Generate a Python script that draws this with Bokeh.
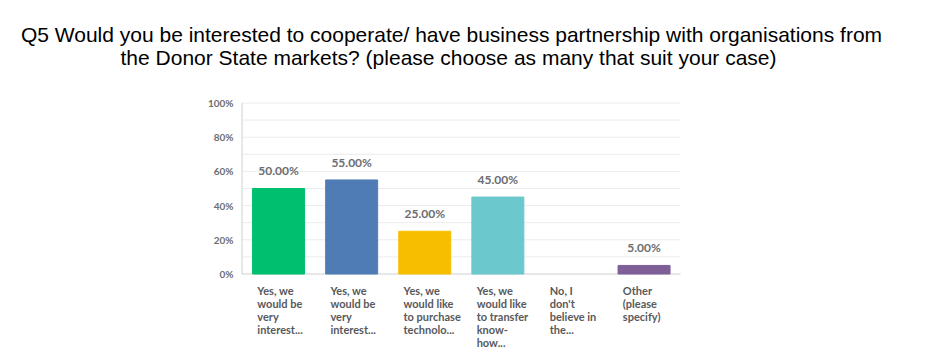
from bokeh.plotting import figure
from bokeh.models import Range1d, ColumnDataSource
from bokeh.core.properties import value
from bokeh.embed import file_html
from bokeh.resources import INLINE

# ---- data ----
title_lines = [
    "Q5 Would you be interested to cooperate/ have business partnership with organisations from",
    "the Donor State markets? (please choose as many that suit your case)",
]
categories = [
    "Yes, we\nwould be\nvery\ninterest...",
    "Yes, we\nwould be\nvery\ninterest...",
    "Yes, we\nwould like\nto purchase\ntechnolo...",
    "Yes, we\nwould like\nto transfer\nknow-\nhow...",
    "No, I\ndon't\nbelieve in\nthe...",
    "Other\n(please\nspecify)",
]
values = [50.0, 55.0, 25.0, 45.0, 0.0, 5.0]
colors = ["#00BF6F", "#507CB6", "#F7BE00", "#6BC8CD", "#C0C0C0", "#7F5F98"]
y_ticks = [0, 20, 40, 60, 80, 100]
grid_values = list(range(10, 101, 10))

W, H = 942, 364
# pixel layout of the plotting area
X0_PX, UNIT_PX = 241.5, 73.1      # px of category index 0, px per category
Y0_PX, Y100_PX = 273.5, 102.5      # px of 0% and 100%
YPX = (Y0_PX - Y100_PX) / 100.0

def px_to_x(px):
    return (px - X0_PX) / UNIT_PX

def px_to_y(py):
    return (Y0_PX - py) / YPX

p = figure(width=W, height=H, output_backend="svg", toolbar_location=None,
           x_range=Range1d(px_to_x(0), px_to_x(W)),
           y_range=Range1d(px_to_y(H), px_to_y(0)),
           min_border=0, outline_line_color=None)
p.axis.visible = False
p.xgrid.visible = False
p.ygrid.visible = False
p.background_fill_color = "white"
p.border_fill_color = "white"

n = len(categories)
# horizontal grid lines every 10%
p.segment(x0=[0] * len(grid_values), x1=[n] * len(grid_values), y0=grid_values, y1=grid_values,
          line_color="#ececec", line_width=1)

# axis lines
p.segment(x0=[0, 0], y0=[0, 0], x1=[0, n], y1=[100, 0], line_color="#d0d0d0", line_width=1)

centers = [i + 0.5 for i in range(n)]
src = ColumnDataSource(dict(cat=categories, cx=[i + 0.21 for i in range(n)]))
bar_src = ColumnDataSource(dict(x=[c for c, v in zip(centers, values) if v > 0],
                                top=[v for v in values if v > 0],
                                color=[c for c, v in zip(colors, values) if v > 0],
                                lab=[f"{v:.2f}%" for v in values if v > 0],
                                ly=[v + 6.0 for v in values if v > 0]))
p.vbar(x="x", top="top", bottom=0, width=52 / UNIT_PX, color="color", source=bar_src)

p.text(x="x", y="ly", text="lab", source=bar_src, text_align="center",
       text_baseline="bottom", text_font=value("Lato"), text_font_style="bold",
       text_font_size="12px", text_color="#6b6d70")

# y tick labels
p.text(x=[px_to_x(233)] * len(y_ticks), y=y_ticks, text=[f"{t}%" for t in y_ticks],
       text_align="right", text_baseline="middle", text_font=value("Lato"),
       text_font_style="bold", text_font_size="10px", text_color="#6b6d70")

# category labels
p.text(x="cx", y=px_to_y(283), text="cat", source=src, text_align="left",
       text_baseline="top", text_font=value("Lato"), text_font_style="bold",
       text_font_size="11px", text_color="#58595b", text_line_height=1.0)

# title
p.text(x=[px_to_x(451), px_to_x(448)], y=[px_to_y(33.5), px_to_y(57)], text=title_lines,
       text_align="center", text_baseline="alphabetic",
       text_font=value("Liberation Sans"), text_font_size="21px", text_color="#000000")

open("out.html", "w").write(file_html(p, INLINE))
